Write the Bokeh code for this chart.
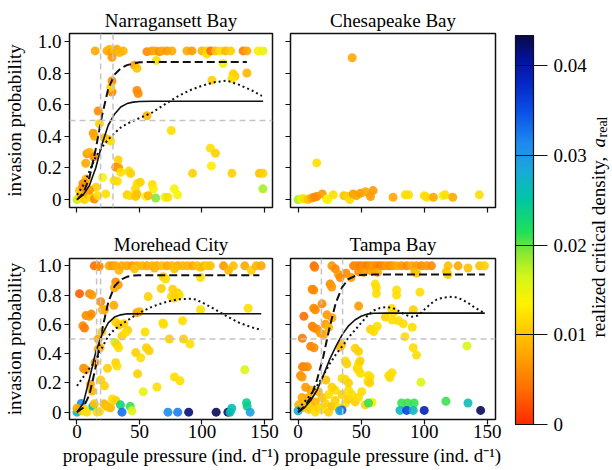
import numpy as np
from bokeh.plotting import figure
from bokeh.models import (Range1d, FixedTicker, CustomJSTickFormatter, ColumnDataSource,
                          LinearColorMapper, ColorBar, Label, Span, CustomLabelingPolicy)
from bokeh.layouts import row, column
from bokeh.embed import file_html
from bokeh.resources import INLINE

FONT = "Liberation Serif"
FS = "19px"

# ---------------- data ----------------
titles = ["Narragansett Bay", "Chesapeake Bay", "Morehead City", "Tampa Bay"]
x_ticks = [0, 50, 100, 150]
y_ticks = [0, 0.2, 0.4, 0.6, 0.8, 1.0]
cbar_ticks = [0, 0.01, 0.02, 0.03, 0.04]
a_low, a_high = 0.0, 0.0434
x_label = "propagule pressure (ind. d\u207b\u00b9)"
y_label = "invasion probability"

# (propagule pressure, invasion probability, realized critical density)
nb_points = [
    (14.6, 0.94, 0.008), (24, 0.94, 0.008), (26, 0.95, 0.009), (28, 0.93, 0.007), (30, 0.94, 0.010),
    (32, 0.95, 0.008), (34, 0.93, 0.009), (37, 0.94, 0.009), (28, 0.90, 0.007),
    (56, 0.935, 0.006), (60, 0.94, 0.007), (63, 0.94, 0.008), (66, 0.935, 0.006), (68, 0.94, 0.008),
    (72, 0.94, 0.007), (76, 0.94, 0.008), (88, 0.94, 0.008), (92, 0.94, 0.007), (100, 0.94, 0.009),
    (104, 0.94, 0.011), (104, 0.92, 0.012), (107, 0.94, 0.004), (111, 0.94, 0.010), (115, 0.94, 0.012),
    (119, 0.94, 0.009), (123, 0.94, 0.011), (133, 0.94, 0.005), (136, 0.94, 0.008), (145, 0.94, 0.013),
    (149, 0.94, 0.015),
    (63.5, 0.88, 0.012), (46, 0.85, 0.007), (48, 0.83, 0.010), (117, 0.86, 0.015), (125, 0.795, 0.011),
    (126.5, 0.78, 0.011), (124, 0.765, 0.012), (136, 0.80, 0.009), (108, 0.755, 0.011),
    (28, 0.75, 0.006), (28, 0.68, 0.006), (27, 0.71, 0.011), (48, 0.69, 0.006), (49, 0.67, 0.006),
    (17, 0.56, 0.006), (56, 0.53, 0.009), (18, 0.48, 0.011),
    (13, 0.42, 0.007), (14, 0.40, 0.008), (22, 0.39, 0.009), (25, 0.38, 0.010), (27, 0.37, 0.012),
    (75.5, 0.437, 0.012),
    (8, 0.29, 0.007), (10, 0.30, 0.009), (13.5, 0.27, 0.006), (7, 0.23, 0.008), (33, 0.25, 0.011),
    (31, 0.205, 0.006), (33.5, 0.20, 0.007), (35, 0.173, 0.012), (41.5, 0.18, 0.012), (43, 0.165, 0.011),
    (7.3, 0.13, 0.009), (4.7, 0.10, 0.006), (6, 0.105, 0.007), (20.4, 0.14, 0.014), (29.6, 0.12, 0.012),
    (32.3, 0.116, 0.012), (15.2, 0.078, 0.011), (48, 0.10, 0.012), (50.6, 0.11, 0.011), (60.3, 0.095, 0.012),
    (61.1, 0.068, 0.013), (46.7, 0.068, 0.012), (48, 0.036, 0.010), (23, 0.036, 0.012), (40, 0.03, 0.011),
    (42.5, 0.025, 0.012), (47, 0.02, 0.010), (55, 0.02, 0.014), (57, 0.025, 0.009), (63, 0.01, 0.019),
    (70.5, 0.015, 0.015), (77.9, 0.068, 0.014), (80.5, 0.03, 0.014), (72.7, 0.015, 0.012),
    (92.5, 0.166, 0.011), (106.8, 0.325, 0.012), (110.8, 0.293, 0.011), (107.6, 0.213, 0.013),
    (124, 0.166, 0.011), (146, 0.166, 0.010), (148.8, 0.166, 0.011), (148.8, 0.068, 0.018),
    (0, 0.0, 0.017), (2, 0.01, 0.012), (4, 0.03, 0.007), (6, 0.0, 0.011), (2, 0.057, 0.010),
    (4.7, 0.078, 0.006), (8.7, 0.036, 0.008), (11.3, 0.015, 0.012), (13.9, 0.004, 0.006),
    (16.5, 0.025, 0.012), (10, 0.06, 0.007),
]

cb_points = [
    (0, 0.0, 0.018), (2.7, 0.005, 0.015), (4.8, 0.005, 0.012), (7.9, 0.0, 0.010), (10.6, 0.01, 0.008),
    (12.7, 0.015, 0.006), (14.8, 0.019, 0.006), (19.2, 0.036, 0.007), (22.6, 0.004, 0.013),
    (23.7, 0.0, 0.014), (27.9, 0.03, 0.012), (36.3, 0.025, 0.010), (39, 0.019, 0.011), (41, 0.0, 0.012),
    (43.7, 0.036, 0.007), (46.3, 0.025, 0.008), (49.5, 0.04, 0.007), (53.4, 0.05, 0.008),
    (57.4, 0.019, 0.007), (59.5, 0.057, 0.007), (75.3, 0.015, 0.008), (85, 0.03, 0.012),
    (87.6, 0.03, 0.012), (100, 0.025, 0.012), (102, 0.015, 0.012), (107.3, 0.015, 0.008),
    (114.8, 0.025, 0.014), (116.6, 0.03, 0.012), (122.6, 0.015, 0.008), (143.7, 0.03, 0.012),
    (42.9, 0.897, 0.008), (14.8, 0.232, 0.012),
]

mc_points = [
    (13.9, 1.0, 0.004), (16.5, 1.0, 0.005), (17.8, 0.995, 0.006), (25.7, 1.0, 0.008), (28.3, 1.0, 0.007),
    (31, 1.0, 0.008), (33.6, 0.97, 0.009), (36, 1.0, 0.008), (40, 1.0, 0.008), (44, 1.0, 0.007),
    (48, 1.0, 0.008), (52, 1.0, 0.009), (56, 1.0, 0.008), (60, 1.0, 0.009), (64, 1.0, 0.008),
    (68, 1.0, 0.010), (72, 1.0, 0.008), (76, 1.0, 0.009), (80.6, 1.0, 0.008), (84.5, 1.0, 0.009),
    (88.4, 1.0, 0.009), (92.4, 1.0, 0.008), (96.3, 1.0, 0.010), (99, 0.99, 0.010), (101.6, 1.0, 0.009),
    (104.2, 1.0, 0.011), (106.8, 1.0, 0.010), (117.3, 1.0, 0.007), (121.3, 0.97, 0.009),
    (125.2, 1.0, 0.010), (134.3, 1.0, 0.008), (139.6, 0.97, 0.011), (143.5, 1.0, 0.009),
    (147.5, 1.0, 0.008), (46, 0.98, 0.010), (62, 0.985, 0.009), (78, 0.98, 0.010),
    (2, 0.81, 0.003), (10, 0.81, 0.006), (12, 0.80, 0.007), (31, 0.89, 0.006), (33, 0.87, 0.007),
    (30, 0.85, 0.008), (19, 0.755, 0.006), (22, 0.70, 0.007), (29.5, 0.73, 0.008), (20.4, 0.70, 0.009),
    (7.2, 0.66, 0.006), (9.9, 0.655, 0.007), (11.5, 0.67, 0.006), (4.7, 0.59, 0.006), (6, 0.575, 0.005),
    (48, 0.68, 0.007), (50, 0.687, 0.009), (57, 0.79, 0.011), (67.5, 0.845, 0.011), (75.6, 0.79, 0.012),
    (68.7, 0.61, 0.012), (69.3, 0.60, 0.012), (31, 0.615, 0.011), (33.6, 0.595, 0.010),
    (37.5, 0.605, 0.011), (40.5, 0.56, 0.011), (54.5, 0.548, 0.012), (30.4, 0.478, 0.017),
    (17, 0.50, 0.008), (20, 0.55, 0.011), (17, 0.43, 0.008), (18.5, 0.44, 0.009), (47, 0.407, 0.011),
    (51, 0.372, 0.012), (55.6, 0.44, 0.011), (57.7, 0.42, 0.011), (32, 0.46, 0.011), (33.3, 0.44, 0.012),
    (36, 0.52, 0.011), (39, 0.545, 0.012), (31, 0.338, 0.011), (32, 0.315, 0.012), (24.4, 0.30, 0.011),
    (14.5, 0.34, 0.007), (5.3, 0.30, 0.006), (7, 0.29, 0.007), (22, 0.18, 0.011), (48.5, 0.262, 0.011),
    (53, 0.14, 0.015), (64, 0.172, 0.012), (78, 0.24, 0.012), (82.5, 0.215, 0.012), (84.5, 0.625, 0.012),
    (74, 0.50, 0.011), (85.3, 0.50, 0.011), (90.5, 0.466, 0.012), (76.6, 0.84, 0.011),
    (80.6, 0.815, 0.011), (81.9, 0.80, 0.012), (77.9, 0.78, 0.011), (98.9, 0.70, 0.012),
    (137, 0.71, 0.012), (134.3, 0.29, 0.016), (98.9, 0.92, 0.012), (69, 0.925, 0.011),
    (71, 0.91, 0.012), (10.8, 0.19, 0.008), (12, 0.145, 0.009), (19, 0.22, 0.011), (28.3, 0.09, 0.012),
    (31, 0.08, 0.011),
    (0, 0.0, 0.027), (3.4, 0.06, 0.031), (4, 0.01, 0.011), (8, 0.0, 0.012), (12.6, 0.04, 0.026),
    (16, 0.0, 0.012), (18, 0.005, 0.012), (24, 0.04, 0.010), (26.8, 0.03, 0.009), (34.8, 0.05, 0.023),
    (36, 0.0, 0.033), (42.6, 0.04, 0.021), (44, 0.01, 0.016), (72.8, 0.0, 0.031), (80.6, 0.0, 0.032),
    (89.4, 0.0, 0.042), (111.4, 0.0, 0.043), (120.8, 0.0, 0.042), (122.6, 0.0, 0.026),
    (123.9, 0.027, 0.026), (135.7, 0.065, 0.024), (136.2, 0.04, 0.024), (138.6, 0.0, 0.029),
    (0, 0.027, 0.008), (13.9, 0.057, 0.010), (21.7, 0.057, 0.009), (24.4, 0.036, 0.010), (6, 0.02, 0.012),
]

tb_points = [
    (12.6, 1.0, 0.004), (13.2, 0.99, 0.005), (26.8, 1.0, 0.007), (29.5, 0.98, 0.006), (32.1, 0.94, 0.007),
    (33.4, 0.92, 0.006), (44, 1.0, 0.005), (46.6, 1.0, 0.006), (49.2, 1.0, 0.005), (51.9, 1.0, 0.006),
    (54.5, 1.0, 0.005), (57.1, 1.0, 0.006), (59.8, 1.0, 0.007), (62.4, 1.0, 0.006), (65, 1.0, 0.005),
    (67.7, 1.0, 0.006), (70.3, 1.0, 0.007), (72.9, 1.0, 0.006), (75, 1.0, 0.007), (78.1, 1.0, 0.008),
    (82.1, 1.0, 0.007), (86, 1.0, 0.006), (90, 1.0, 0.008), (93.9, 1.0, 0.007), (97.9, 1.0, 0.006),
    (101.8, 1.0, 0.007), (105.7, 1.0, 0.006), (118.9, 1.0, 0.010), (126.8, 1.0, 0.008),
    (134.7, 0.985, 0.010), (143.9, 1.0, 0.010), (147.8, 1.0, 0.011), (48, 0.96, 0.006),
    (52, 0.955, 0.007), (58, 0.965, 0.007), (63, 0.955, 0.008), (92.6, 0.96, 0.009), (93.9, 0.95, 0.010),
    (117.6, 0.96, 0.010), (118.9, 0.94, 0.011), (38, 0.95, 0.006), (42, 0.92, 0.007),
    (11.2, 0.84, 0.005), (12.5, 0.834, 0.006), (25.4, 0.875, 0.006), (26.7, 0.855, 0.007), (19, 0.74, 0.006),
    (12.4, 0.71, 0.006), (13.7, 0.70, 0.006), (4.6, 0.655, 0.004), (22.9, 0.665, 0.007),
    (26.9, 0.645, 0.008), (21.6, 0.60, 0.007), (24.2, 0.58, 0.009), (11.3, 0.587, 0.005),
    (12.6, 0.576, 0.006), (15.3, 0.566, 0.006), (3.4, 0.505, 0.005), (17.7, 0.54, 0.007),
    (20.3, 0.53, 0.008), (10, 0.45, 0.005), (12.6, 0.44, 0.006), (33.4, 0.445, 0.009), (34.8, 0.465, 0.010),
    (45.3, 0.436, 0.011), (47.9, 0.415, 0.011), (37.4, 0.35, 0.012), (38.7, 0.33, 0.011), (3.5, 0.31, 0.005),
    (4.7, 0.31, 0.006), (7.4, 0.31, 0.006), (1.9, 0.25, 0.006), (3.2, 0.24, 0.007), (46.9, 0.30, 0.011),
    (48.1, 0.285, 0.012), (49.5, 0.265, 0.012), (55.8, 0.25, 0.012), (57.1, 0.24, 0.012),
    (55.3, 0.21, 0.012), (56.8, 0.20, 0.011), (71.8, 0.25, 0.012), (74.5, 0.27, 0.012), (72.9, 0.237, 0.012),
    (61.2, 0.875, 0.012), (62.1, 0.85, 0.012), (62.1, 0.81, 0.012), (48, 0.725, 0.007), (78.1, 0.834, 0.012),
    (78.1, 0.80, 0.012), (96.6, 0.82, 0.012), (74.2, 0.708, 0.012), (75.5, 0.68, 0.012), (91.3, 0.70, 0.011),
    (79.5, 0.625, 0.012), (83.4, 0.604, 0.012), (90.5, 0.58, 0.012), (84.7, 0.516, 0.012),
    (91.3, 0.44, 0.012), (93.9, 0.39, 0.012), (133.9, 0.453, 0.016), (97.4, 0.205, 0.016),
    (69.2, 0.65, 0.011), (74.5, 0.63, 0.012), (57.4, 0.566, 0.011), (60, 0.55, 0.012), (62.7, 0.587, 0.012),
    (47.9, 0.33, 0.012), (49.2, 0.35, 0.011),
    (0.5, 0.05, 0.009), (3.2, 0.03, 0.010), (3.2, 0.10, 0.008), (5.8, 0.06, 0.009), (8.5, 0.02, 0.010),
    (8.5, 0.10, 0.008), (11.1, 0.04, 0.011), (13.7, 0.07, 0.009), (13.7, 0.0, 0.012), (16.3, 0.03, 0.011),
    (19, 0.10, 0.010), (19, 0.02, 0.012), (21.6, 0.06, 0.011), (24.2, 0.0, 0.011), (24.2, 0.12, 0.012),
    (26.9, 0.04, 0.010), (29.5, 0.08, 0.011), (29.5, 0.15, 0.012), (32.1, 0.03, 0.012), (34.8, 0.12, 0.011),
    (37.4, 0.06, 0.012), (40, 0.09, 0.011), (40, 0.15, 0.012), (42.6, 0.12, 0.012), (45.3, 0.07, 0.011),
    (47.9, 0.10, 0.012), (50.5, 0.14, 0.012), (53.2, 0.05, 0.011), (58.7, 0.067, 0.013),
    (37.4, 0.225, 0.012), (40, 0.20, 0.011), (34.8, 0.23, 0.012), (26.9, 0.17, 0.011), (10, 0.15, 0.008),
    (6, 0.17, 0.007), (16, 0.14, 0.009), (22, 0.22, 0.010),
    (55.8, 0.063, 0.021), (34.8, 0.015, 0.034), (33, 0.01, 0.029), (0, 0.01, 0.028), (82.1, 0.063, 0.021),
    (86.8, 0.063, 0.021), (92, 0.063, 0.021), (117.2, 0.075, 0.021), (134.7, 0.063, 0.026),
    (80.8, 0.012, 0.027), (86.1, 0.012, 0.036), (91.3, 0.012, 0.027), (100, 0.012, 0.039),
    (144.7, 0.012, 0.043),
]

# fitted curves
nb_dash_x = [0, 5, 10, 15, 20, 25, 30, 35, 40, 45, 50, 60, 136]
nb_dash_y = [0.0, 0.04, 0.14, 0.32, 0.53, 0.70, 0.79, 0.83, 0.85, 0.86, 0.868, 0.87, 0.87]
nb_solid_x = [0, 5, 10, 15, 20, 25, 30, 35, 40, 45, 50, 60, 149]
nb_solid_y = [0.0, 0.03, 0.09, 0.2, 0.35, 0.47, 0.54, 0.585, 0.607, 0.616, 0.62, 0.622, 0.622]
nb_dot_x = [0, 5, 10, 15, 20, 25, 30, 35, 40, 50, 60, 70, 80, 90, 100, 110, 120, 130, 140, 148]
nb_dot_y = [0.03, 0.09, 0.18, 0.27, 0.33, 0.38, 0.42, 0.455, 0.48, 0.515, 0.55, 0.60, 0.65, 0.69,
            0.72, 0.742, 0.752, 0.725, 0.69, 0.655]

mc_dash_x = [0, 5, 10, 15, 20, 25, 30, 35, 40, 45, 50, 146]
mc_dash_y = [0.0, 0.03, 0.12, 0.31, 0.56, 0.75, 0.86, 0.905, 0.925, 0.933, 0.935, 0.935]
mc_solid_x = [0, 5, 10, 15, 20, 25, 30, 35, 40, 50, 147.5]
mc_solid_y = [0.0, 0.06, 0.23, 0.41, 0.53, 0.61, 0.65, 0.665, 0.672, 0.673, 0.673]
mc_dot_x = [0, 5, 10, 15, 20, 25, 30, 35, 40, 50, 60, 70, 80, 90, 95, 100, 110, 120, 130, 140, 148]
mc_dot_y = [0.18, 0.24, 0.30, 0.35, 0.44, 0.52, 0.565, 0.595, 0.625, 0.68, 0.72, 0.75, 0.77, 0.775,
            0.77, 0.75, 0.705, 0.655, 0.61, 0.58, 0.56]

tb_dash_x = [0, 5, 10, 15, 20, 25, 30, 35, 40, 45, 50, 60, 148]
tb_dash_y = [0.0, 0.04, 0.10, 0.22, 0.38, 0.58, 0.75, 0.855, 0.91, 0.93, 0.938, 0.94, 0.94]
tb_solid_x = [0, 5, 10, 15, 20, 25, 30, 35, 40, 45, 50, 55, 60, 70, 148]
tb_solid_y = [0.0, 0.03, 0.08, 0.15, 0.25, 0.36, 0.45, 0.53, 0.59, 0.63, 0.655, 0.67, 0.676, 0.677, 0.677]
tb_dot_x = [0, 5, 10, 15, 20, 25, 30, 35, 40, 45, 50, 55, 60, 65, 70, 75, 80, 85, 90, 95, 100, 105,
            110, 115, 120, 125, 130, 135, 140, 147]
tb_dot_y = [0.02, 0.07, 0.12, 0.18, 0.25, 0.33, 0.395, 0.45, 0.51, 0.56, 0.61, 0.66, 0.695, 0.712,
            0.718, 0.712, 0.69, 0.665, 0.652, 0.66, 0.70, 0.74, 0.77, 0.783, 0.788, 0.785, 0.77,
            0.745, 0.715, 0.68]

nb_vlines = [18.9, 28.8]
mc_vlines = [15.7, 18.9]
tb_vlines = [18.5, 35.3]
h_line = 0.5

# ---------------- colour palette (jet-like, reversed) ----------------
anchors = [(0.0, "#ff2a00"), (0.004, "#ff7000"), (0.008, "#ffa800"), (0.010, "#ffc400"),
           (0.0134, "#fff200"), (0.0165, "#d4f51a"), (0.019, "#8ee830"), (0.0215, "#1ee05a"),
           (0.025, "#00c8a0"), (0.0285, "#1aa8dc"), (0.0315, "#1e88f0"), (0.035, "#0a50e6"),
           (0.038, "#0628c8"), (0.041, "#031296"), (0.0434, "#0a0a4a")]
ap = np.array([a for a, _ in anchors])
rgb = np.array([[int(c[i:i + 2], 16) for i in (1, 3, 5)] for _, c in anchors], dtype=float)
grid = np.linspace(a_low, a_high, 256)
palette = []
for g in grid:
    r, gg, b = (np.interp(g, ap, rgb[:, k]) for k in range(3))
    palette.append("#%02x%02x%02x" % (int(round(r)), int(round(gg)), int(round(b))))
mapper = LinearColorMapper(palette=palette, low=a_low, high=a_high)

yfmt = CustomJSTickFormatter(code="return tick == 0 ? '0' : tick.toFixed(1);")


def hide_labels(ax):
    ax.major_label_text_font_size = "1px"
    ax.major_label_standoff = 0
    ax.formatter = CustomJSTickFormatter(code="return '';")
    ax.major_label_policy = CustomLabelingPolicy(code="return new Set();")


def make_panel(title, pts, width, height, borders, show_x, show_y, curves, vlines, hline, t_off):
    lft, rgt, top, bot = borders
    p = figure(width=width, height=height, output_backend="svg", toolbar_location=None,
               x_range=Range1d(-6, 156.5), y_range=Range1d(-0.05, 1.05),
               min_border_left=lft, min_border_right=rgt, min_border_top=top, min_border_bottom=bot)
    p.title.text = title
    p.title.text_font = FONT
    p.title.text_font_size = FS
    p.title.text_font_style = "normal"
    p.title.align = "center"
    p.title.standoff = t_off
    p.title.text_color = "#000000"
    p.grid.visible = False
    p.outline_line_color = "#111111"
    p.outline_line_width = 1.5
    p.background_fill_color = "white"
    p.border_fill_color = "white"
    for ax in (p.xaxis[0], p.yaxis[0]):
        ax.axis_line_color = None
        ax.major_tick_line_color = "#111111"
        ax.major_tick_line_width = 1.2
        ax.major_tick_out = 5
        ax.major_tick_in = 0
        ax.minor_tick_line_color = None
        ax.major_label_text_font = FONT
        ax.major_label_text_font_size = FS
        ax.major_label_text_color = "#000000"
        ax.axis_label_text_font = FONT
        ax.axis_label_text_font_size = FS
        ax.axis_label_text_font_style = "normal"
        ax.axis_label_text_color = "#000000"
    p.xaxis.ticker = FixedTicker(ticks=x_ticks)
    p.yaxis.ticker = FixedTicker(ticks=y_ticks)
    p.yaxis.formatter = yfmt
    if show_x:
        p.xaxis.axis_label = x_label
        p.xaxis.major_label_standoff = 0
        p.xaxis.axis_label_standoff = 4
    else:
        hide_labels(p.xaxis[0])
    if show_y:
        p.yaxis.axis_label = y_label
        p.yaxis.major_label_standoff = 3
        p.yaxis.axis_label_standoff = 10
    else:
        hide_labels(p.yaxis[0])

    if hline is not None:
        p.add_layout(Span(location=hline, dimension="width", line_color="#c4c4c4",
                          line_dash="6 4", line_width=1.5))
    for v in vlines:
        p.add_layout(Span(location=v, dimension="height", line_color="#c4c4c4",
                          line_dash="6 4", line_width=1.5))

    src = ColumnDataSource(data=dict(x=[q[0] for q in pts], y=[q[1] for q in pts],
                                     a=[q[2] for q in pts]))
    p.scatter("x", "y", source=src, size=9, line_color=None, fill_alpha=0.9,
              fill_color={"field": "a", "transform": mapper})

    for xs, ys, style in curves:
        if style == "dash":
            p.line(xs, ys, line_color="#111111", line_width=2, line_dash="8 4")
        elif style == "solid":
            p.line(xs, ys, line_color="#111111", line_width=1.6)
        else:
            p.line(xs, ys, line_color="#111111", line_width=2, line_dash="2 3")
    return p


p1 = make_panel(titles[0], nb_points, 280, 227, (65, 8, 33, 20), False, True,
                [(nb_dash_x, nb_dash_y, "dash"), (nb_solid_x, nb_solid_y, "solid"),
                 (nb_dot_x, nb_dot_y, "dot")], nb_vlines, h_line, 6)
p2 = make_panel(titles[1], cb_points, 225, 227, (10, 10, 33, 20), False, False, [], [], None, 6)
p3 = make_panel(titles[2], mc_points, 280, 241, (65, 8, 20, 48), True, True,
                [(mc_dash_x, mc_dash_y, "dash"), (mc_solid_x, mc_solid_y, "solid"),
                 (mc_dot_x, mc_dot_y, "dot")], mc_vlines, h_line, 8)
p4 = make_panel(titles[3], tb_points, 225, 241, (10, 10, 20, 48), True, False,
                [(tb_dash_x, tb_dash_y, "dash"), (tb_solid_x, tb_solid_y, "solid"),
                 (tb_dot_x, tb_dot_y, "dot")], tb_vlines, h_line, 8)

# ---------------- colour bar panel ----------------
PC_H = 468
pc = figure(width=105, height=PC_H, output_backend="svg", toolbar_location=None,
            x_range=Range1d(0, 1), y_range=Range1d(0, 1),
            min_border_left=0, min_border_right=0, min_border_top=0, min_border_bottom=0,
            x_axis_location=None, y_axis_location=None)
pc.grid.visible = False
pc.outline_line_color = None
cb = ColorBar(color_mapper=mapper, location=(10, PC_H - 424), width=18, height=389, padding=0,
              ticker=FixedTicker(ticks=cbar_ticks),
              formatter=CustomJSTickFormatter(code="return tick == 0 ? '0' : tick.toFixed(2);"),
              major_tick_in=18, major_tick_out=14, major_tick_line_color="#111111",
              major_tick_line_width=1.2, minor_tick_line_color=None,
              label_standoff=6, major_label_text_font=FONT,
              major_label_text_font_size="19px", major_label_text_color="#000000",
              bar_line_color="#111111", bar_line_width=1.2,
              background_fill_alpha=0, border_line_color=None)
pc.add_layout(cb, "center")
pc.add_layout(Label(x=93, y=PC_H - 337, x_units="screen", y_units="screen",
                    text="realized critical density, ", angle=np.pi / 2,
                    text_font=FONT, text_font_size="19px", text_color="#000000",
                    text_align="left", text_baseline="middle"))
pc.add_layout(Label(x=93, y=PC_H - 147, x_units="screen", y_units="screen",
                    text="a", angle=np.pi / 2, text_font_style="italic",
                    text_font=FONT, text_font_size="19px", text_color="#000000",
                    text_align="left", text_baseline="middle"))
pc.add_layout(Label(x=97, y=PC_H - 137, x_units="screen", y_units="screen",
                    text="real", angle=np.pi / 2,
                    text_font=FONT, text_font_size="14px", text_color="#000000",
                    text_align="left", text_baseline="middle"))

layout = row(column(p1, p3), column(p2, p4), pc)
open("out.html", "w").write(file_html(layout, INLINE))
